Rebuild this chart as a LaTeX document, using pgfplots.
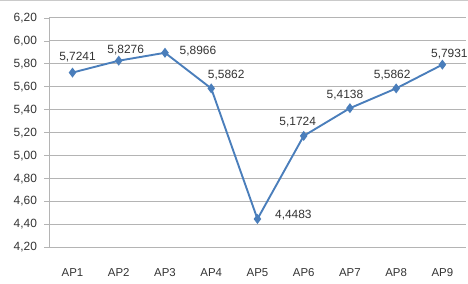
\documentclass[border=0pt]{standalone}
\usepackage{pgfplots}
\pgfplotsset{compat=1.18}
\usepackage{fontspec}
\setmainfont{Liberation Sans}
\definecolor{lineblue}{HTML}{4A7EBB}
\definecolor{gridgray}{HTML}{B4B4B4}
\definecolor{txt}{HTML}{333333}
\begin{document}
\begin{tikzpicture}
\begin{axis}[
  name=ax,
  scale only axis,
  width=417bp, height=230bp,
  xmin=0.5, xmax=9.5,
  ymin=4.2, ymax=6.2,
  axis x line*=bottom, axis y line*=left,
  axis line style={gridgray, line width=1pt},
  xtick={1,...,9},
  xticklabels={AP1,AP2,AP3,AP4,AP5,AP6,AP7,AP8,AP9},
  x tick label style={font=\fontsize{11.5}{13}\selectfont, text=txt, yshift=-13bp},
  extra x ticks={1.5,2.5,3.5,4.5,5.5,6.5,7.5,8.5},
  extra x tick labels={},
  extra x tick style={major tick length=3bp, tick align=outside, major tick style={gridgray, line width=0.8pt}},
  major x tick style={draw=none},
  ytick={4.2,4.4,4.6,4.8,5.0,5.2,5.4,5.6,5.8,6.0,6.2},
  yticklabel style={/pgf/number format/fixed, /pgf/number format/fixed zerofill, /pgf/number format/precision=2, /pgf/number format/use comma, /pgf/number format/assume math mode=true},
  y tick label style={font=\fontsize{12}{14}\selectfont, text=txt, xshift=-4bp},
  major y tick style={gridgray, line width=0.8pt},
  tick align=outside, major tick length=5bp,
  ymajorgrids,
  grid style={gridgray, line width=1pt},
  clip=false,
  visualization depends on={value \thisrow{dx} \as \dx},
  visualization depends on={value \thisrow{dy} \as \dy},
  nodes near coords={\pgfmathprintnumber[fixed, fixed zerofill, precision=4, use comma, assume math mode=true]{\pgfplotspointmeta}},
  point meta=explicit,
  every node near coord/.append style={anchor=center, xshift=\dx bp, yshift=\dy bp, font=\fontsize{12}{14}\selectfont, text=txt, inner sep=0pt},
]
\addplot[lineblue, line width=1.9pt, mark=diamond*, mark size=3.5pt, mark options={fill=lineblue, draw=lineblue}]
table[x=x, y=y, meta=y] {
x y dx dy
1 5.7241 5 16
2 5.8276 7 11
3 5.8966 33 2
4 5.5862 15 13
5 4.4483 36 4
6 5.1724 -6 14
7 5.4138 -5 13
8 5.5862 -4 13
9 5.7931 7 11
};
\end{axis}
\path ([shift={(-49bp,-36bp)}]ax.south west) rectangle ([shift={(2bp,18bp)}]ax.north east);
\draw[gridgray!70, line width=1pt] ([shift={(-49bp,17bp)}]ax.north west) -- ([shift={(2bp,17bp)}]ax.north east);
\end{tikzpicture}
\end{document}
